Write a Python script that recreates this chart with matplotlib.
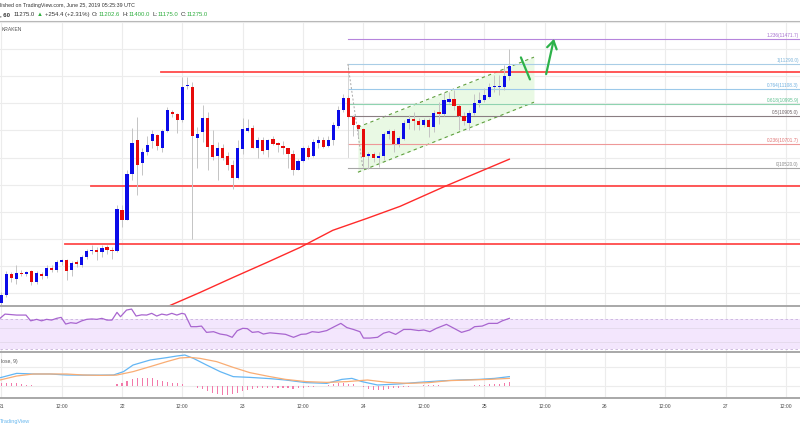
import matplotlib
matplotlib.use('Agg')
import matplotlib.pyplot as plt
from matplotlib.lines import Line2D

# ---------------- data (hourly candles from 2019-06-21 00:00 UTC) ----------------
hours = list(range(102))
opens = [9530, 9584, 9739, 9707, 9751, 9739, 9761, 9682, 9744, 9724,
         9788, 9774, 9830, 9842, 9768, 9827, 9805, 9867, 9909, 9921,
         9903, 9940, 9921, 9911, 10216, 10143, 10482, 10728, 10563, 10641,
         10720, 10765, 10674, 10796, 10937, 10920, 10875, 11130, 11121, 10745,
         10789, 10892, 10691, 10615, 10669, 10610, 10543, 10450, 10661, 10796,
         10821, 10671, 10728, 10654, 10735, 10708, 10684, 10669, 10627, 10512,
         10575, 10674, 10610, 10708, 10733, 10684, 10728, 10833, 10949, 11036,
         10900, 10838, 10814, 10610, 10630, 10600, 10610, 10772, 10796, 10698,
         10740, 10858, 10881, 10870, 10838, 10875, 10826, 10937, 10920, 11010,
         11030, 10979, 10907, 10858, 10932, 10999, 11023, 11047, 11119, 11117,
         11121, 11202.6]
highs = [9606, 9761, 9756, 9805, 9768, 9765, 9768, 9761, 9756, 9805,
         9805, 9842, 9855, 9855, 9835, 9842, 9879, 9928, 9953, 9940,
         9953, 9953, 9940, 10248, 10248, 10506, 10816, 10900, 10669, 10757,
         10802, 10772, 10814, 10974, 10954, 10925, 11193, 11195, 11158, 10826,
         10986, 10937, 10802, 10715, 10703, 10641, 10580, 10728, 10888, 10881,
         10838, 10748, 10748, 10740, 10757, 10715, 10720, 10674, 10654, 10593,
         10684, 10691, 10740, 10757, 10752, 10757, 10863, 10979, 11072, 11060,
         10912, 10851, 10821, 10641, 10641, 10641, 10789, 10814, 10814, 10757,
         10875, 10912, 10937, 10888, 10895, 10895, 10949, 11010, 11084, 11084,
         11097, 10993, 10937, 10949, 11072, 11084, 11109, 11146, 11208, 11208,
         11281, 11400]
lows = [9510, 9571, 9682, 9670, 9731, 9731, 9658, 9670, 9707, 9714,
        9756, 9756, 9805, 9695, 9731, 9793, 9793, 9855, 9892, 9842,
        9867, 9892, 9855, 9903, 10088, 10137, 10433, 10322, 10470, 10617,
        10667, 10654, 10641, 10789, 10900, 10782, 10863, 11102, 10002, 10526,
        10715, 10506, 10580, 10433, 10580, 10506, 10371, 10445, 10630, 10789,
        10667, 10600, 10630, 10605, 10691, 10641, 10630, 10526, 10475, 10506,
        10568, 10593, 10605, 10667, 10667, 10678, 10691, 10821, 10937, 10888,
        10757, 10752, 10531, 10519, 10568, 10531, 10580, 10740, 10641, 10678,
        10728, 10814, 10802, 10802, 10826, 10752, 10789, 10851, 10905, 10999,
        10949, 10802, 10838, 10802, 10912, 10974, 11010, 11036, 11084, 11060,
        11097, 11175]
closes = [9584, 9739, 9714, 9751, 9739, 9754, 9682, 9748, 9724, 9788,
          9768, 9827, 9842, 9761, 9822, 9813, 9867, 9909, 9921, 9903,
          9936, 9916, 9911, 10219, 10143, 10482, 10708, 10548, 10641, 10691,
          10777, 10684, 10796, 10949, 10920, 10875, 11121, 11137, 10757, 10777,
          10892, 10678, 10605, 10669, 10600, 10543, 10450, 10667, 10809, 10819,
          10671, 10728, 10649, 10733, 10703, 10691, 10669, 10624, 10512, 10578,
          10674, 10605, 10713, 10733, 10678, 10733, 10838, 10954, 11036, 10900,
          10838, 10814, 10605, 10630, 10600, 10615, 10772, 10796, 10698, 10745,
          10858, 10883, 10868, 10838, 10875, 10826, 10932, 10920, 11023, 11030,
          10979, 10907, 10868, 10932, 10999, 11023, 11060, 11121, 11126, 11126,
          11202, 11275]

# moving average
sma_hours = [33.1, 39.5, 46.1, 52.8, 59.4, 65.9, 72.7, 79.3, 88.2, 101]
sma_vals = [9503, 9606, 9717, 9827, 9938, 10064, 10152, 10241, 10388, 10588]

# horizontal support / resistance lines: (start hour, price)
hlines = [(31.7, 11230), (17.8, 10388), (12.7, 9960)]

# fibonacci retracement
fib_start = 68.9
fib_hi, fib_lo = 11290, 10520
fib_levels = [1.236, 1, 0.764, 0.618, 0.5, 0.236, 0]
fib_colors = ['#b684dc', '#a9cde6', '#9cc9ea', '#8fd3b0', '#8a7e82', '#ee9898', '#a6a6a6']
fib_text_colors = ['#a56fd0', '#7fb5da', '#6fb0e0', '#5fc090', '#6d6266', '#e07474', '#8a8a8a']

# rising channel
ch_hours = [70.9, 105.9]
ch_lower = [10492, 11008]
ch_upper = [10824, 11340]

# arrows
arrow1 = [(103.3, 11338), (105.1, 11176)]
arrow2 = [(108.2, 11195), (110.0, 11495)]

# RSI
rsi_hours = [-0.26, 0.74, 3.06, 4.9, 5.84, 7.03, 8.0, 9.0, 10.0, 11.0, 11.9, 12.8, 13.8, 14.9,
             16.0, 17.0, 18.0, 19.0, 20.0, 21.0, 22.0, 23.0, 23.7, 24.9, 25.9, 26.8, 27.9, 28.9,
             29.9, 30.9, 31.9, 32.9, 33.9, 34.9, 35.9, 36.5, 37.7, 38.8, 39.8, 40.8, 42.2, 43.5,
             44.8, 45.9, 46.9, 48.0, 48.9, 49.9, 51.1, 52.1, 53.4, 55, 56.5, 58.1, 59.6, 60.6,
             61.8, 63.1, 64.7, 66.2, 67.5, 68.7, 70.0, 71.3, 72, 73.3, 74.8, 76, 77.1, 78.4,
             80, 81.4, 83, 84, 85.2, 86.5, 88.5, 90, 91.5, 93.1, 94.1, 95.6, 96.9, 98.6, 99.6, 101]
rsi_vals = [71.3, 77, 75.7, 75.7, 68, 70, 68, 70, 69, 71.3, 72.6, 63.7, 65.5, 64.6,
            68, 70, 70.5, 70, 71.3, 69, 69, 79.3, 73.5, 82.4, 83.7, 74.4, 76, 75.7,
            78, 74.4, 77, 75.7, 78, 75.7, 78, 77, 60.2, 60.2, 61, 52.6, 53.5, 50.4,
            49, 46, 54.8, 58, 57.6, 52.6, 53.5, 50.4, 52, 51, 50, 46, 50, 50.4,
            53.5, 52.6, 55, 60.2, 64.6, 59, 56.5, 53.5, 45, 45, 46, 51.5, 53.5, 49.9,
            56.5, 56.5, 55, 55.8, 53.5, 58, 63.3, 58, 52.6, 55.8, 60.2, 61, 64.6, 64.6, 68, 71.3]

# MACD (12, 26, close, 9)
macd_hours = [-0.26, 3.06, 6.37, 9.68, 13.0, 16.3, 19.6, 22.3, 24.3, 26.2, 29.6, 32.9, 34.9,
              36.5, 38.2, 40.8, 43.5, 46.1, 49.4, 53.4, 56.5, 60.6, 64.7, 67.7, 69.7, 71.7,
              74.8, 78.9, 82.9, 87, 91, 95, 98.1, 101]
macd_vals = [66, 101, 96, 96, 88, 87, 87, 88, 115, 168, 208, 227, 240,
             248, 221, 168, 115, 75, 69, 59, 48, 27, 21, 53, 61, 35,
             8, 16, 29, 40, 48, 53, 61, 75]
signal_hours = [-0.26, 3.06, 6.37, 9.68, 13.0, 16.3, 19.6, 22.9, 26.2, 29.6, 32.9, 35.5, 37.5,
                39.5, 42.8, 46.1, 49.4, 53.4, 56.5, 60.6, 64.7, 68.7, 72.8, 76.8, 80.9, 85,
                89, 93.1, 97.1, 101]
signal_vals = [48, 80, 96, 96, 96, 88, 85, 87, 115, 155, 195, 224, 229,
               221, 195, 149, 107, 75, 53, 35, 29, 35, 48, 29, 21, 27,
               43, 48, 53, 61]
hist_vals = [21, 21, 21, 21, 16, 11, 5, 4, 3, 2, 1, 1, 0, -1, -1, 0, 0, 0, 0, 0, 1, 1, 2,
             13, 27, 40, 56, 61, 64, 64, 61, 48, 40, 32, 27, 27, 16, 3, 0,
             -19, -27, -40, -53, -67, -72, -72, -67, -59, -37, -32, -21, -19, -19, -16,
             -16, -16, -16, -16, -20, -16, -12, -8, -4, 0, 4, 12, 20, 24, 24, 20, 16, 4,
             -8, -20, -28, -32, -28, -24, -16, -12, -8, -4, 0, 4, 8, 8, 12, 8, 4, 4, 4, 4,
             4, 4, 8, 8, 12, 16, 16, 20, 24, 32]

time_ticks = [0, 12, 24, 36, 48, 60, 72, 84, 96, 108, 120, 132, 144, 156]
time_labels = ['21', '12:00', '22', '12:00', '23', '12:00', '24', '12:00',
               '25', '12:00', '26', '12:00', '27', '12:00']

# ---------------- layout helpers ----------------
W, H = 800, 430
PX_PER_H = 5.03
X0 = 1.3
FONT = ['Liberation Sans', 'DejaVu Sans']
plt.rcParams['font.family'] = FONT

fig = plt.figure(figsize=(W / 100, H / 100), dpi=100)
fig.patch.set_facecolor('white')


def rect(top, bot):
    return [0, 1 - bot / H, 1, (bot - top) / H]


XLIM = (-X0 / PX_PER_H, (W - X0) / PX_PER_H)
ax = fig.add_axes(rect(20.5, 305.5))
ax_rsi = fig.add_axes(rect(306, 352))
ax_macd = fig.add_axes(rect(353, 398))
for a in (ax, ax_rsi, ax_macd):
    a.set_xlim(*XLIM)
    a.axis('off')
    for t in time_ticks:
        a.axvline(t, color='#ececec', lw=0.8, zorder=0)

ax.set_ylim(9510, 11610)
ax_rsi.set_ylim(26.4, 87.8)
ax_macd.set_ylim(-96, 264)

GRID = '#ececec'
for p in range(9600, 11601, 200):
    ax.axhline(p, color=GRID, lw=0.8, zorder=0)

# ---------------- main pane ----------------
# channel
ax.fill_between(ch_hours, ch_lower, ch_upper, color='#e9f9e4', zorder=1, lw=0)
for ys in (ch_lower, ch_upper):
    ax.plot(ch_hours, ys, color='#5f9f3e', lw=0.8, ls=(0, (3, 3)), zorder=2)

# fib retracement
x_label = (W - 1 - X0) / PX_PER_H
for lvl, col, tcol in zip(fib_levels, fib_colors, fib_text_colors):
    price = fib_lo + (fib_hi - fib_lo) * lvl
    ax.plot([fib_start, XLIM[1]], [price, price], color=col, lw=0.8, zorder=2)
    ax.text(x_label, price + 8, f"{lvl:g}({price:.1f})", color=tcol, fontsize=3.4,
            ha='right', va='bottom', zorder=6)
ax.plot([fib_start, fib_start], [fib_hi, 10602], color='#d0d0d0', lw=0.6, zorder=2)
ax.plot([fib_start, 71.9], [fib_hi, fib_lo], color='#a8a8a8', lw=0.7, ls=(0, (2, 2)), zorder=2)

# horizontal lines
for h0, p in hlines:
    ax.plot([h0, XLIM[1]], [p, p], color='#ff4a4a', lw=1.3, zorder=3)

# SMA
ax.plot(sma_hours, sma_vals, color='#ff2a2a', lw=1.0, zorder=3)

# candles
up_col, dn_col = '#0b0be8', '#e60b0b'
cols = [up_col if c >= o else dn_col for o, c in zip(opens, closes)]
ax.vlines(hours, lows, highs, colors='#c4c4c4', lw=0.7, zorder=4)
heights = [c - o if abs(c - o) > 6 else 6 for o, c in zip(opens, closes)]
bottoms = [o if abs(c - o) > 6 else min(o, c) for o, c in zip(opens, closes)]
ax.bar(hours, heights, bottom=bottoms, width=0.64, color=cols, lw=0, zorder=5)

# arrows
ax.plot([arrow1[0][0], arrow1[1][0]], [arrow1[0][1], arrow1[1][1]],
        color='#2db24a', lw=1.6, solid_capstyle='round', zorder=6)
ax.annotate('', xy=arrow2[1], xytext=arrow2[0],
            arrowprops=dict(arrowstyle='->,head_length=0.55,head_width=0.35',
                            color='#2db24a', lw=1.6, mutation_scale=10),
            zorder=6)

ax.text(0.0, 11610 - (29.3 - 20.5) * 7.38, 'KRAKEN', fontsize=3.6, color='#555555',
        ha='left', va='center')

# ---------------- RSI pane ----------------
ax_rsi.axhspan(30, 70, color='#f3e6fd', lw=0, zorder=0)
for lv in (70, 30):
    ax_rsi.axhline(lv, color='#c9b2dc', lw=0.6, ls=(0, (3, 3)), zorder=1)
for lv in (58.4, 39.7):
    ax_rsi.axhline(lv, color='#e3d8ea', lw=0.6, zorder=1)
ax_rsi.plot(rsi_hours, rsi_vals, color='#a865cf', lw=0.9, zorder=3)

# ---------------- MACD pane ----------------
ax_macd.axhline(0, color=GRID, lw=0.8, zorder=0)
ax_macd.axhline(154, color=GRID, lw=0.8, zorder=0)
ax_macd.bar(hours, hist_vals, width=0.22, color='#f27aaa', lw=0, zorder=2)
ax_macd.plot(macd_hours, macd_vals, color='#63b6f4', lw=0.9, zorder=3)
ax_macd.plot(signal_hours, signal_vals, color='#f9ad74', lw=0.9, zorder=3)
ax_macd.text(0.0, 264 - (361 - 353) * 8, 'lose, 9)', fontsize=3.6, color='#555555',
             ha='left', va='center')

# ---------------- separators, time axis, header ----------------
for y, lw, c in [(20.5, 0.8, '#b8b8b8'), (305.7, 1.4, '#a8a8a8'),
                 (352.4, 1.4, '#a8a8a8'), (398.4, 1.4, '#a8a8a8')]:
    fig.add_artist(Line2D([0, 1], [1 - y / H, 1 - y / H], transform=fig.transFigure,
                          color=c, lw=lw))

for t, lab in zip(time_ticks, time_labels):
    fig.text((X0 + PX_PER_H * t) / W, 1 - 406 / H, lab, fontsize=3.6, color='#4a4a4a',
             ha='center', va='center')

fig.text(0.0, 1 - 421 / H, 'TradingView', fontsize=4.0, color='#6ab8ee',
         ha='left', va='center')

fig.text(0.0, 1 - 6 / H, 'lished on TradingView.com, June 25, 2019 05:25:39 UTC',
         fontsize=3.8, color='#333333', ha='left', va='center')

renderer = fig.canvas.get_renderer()
green = '#2fae3f'
dark = '#333333'
segs = [(', 60', dark, 'bold', 3.5), ('11275.0', dark, 'normal', 2.5),
        ('\u25b2', green, 'normal', 1.5), ('+254.4 (+2.31%)', dark, 'normal', 2.5),
        ('O:', dark, 'normal', 0.3), ('11202.6', green, 'normal', 2.5),
        ('H:', dark, 'normal', 0.3), ('11400.0', green, 'normal', 2.5),
        ('L:', dark, 'normal', 0.3), ('11175.0', green, 'normal', 2.5),
        ('C:', dark, 'normal', 0.3), ('11275.0', green, 'normal', 0)]
xpos = 0.0
for s, c, wgt, gap in segs:
    t = fig.text(xpos / W, 1 - 14.7 / H, s, fontsize=4.3, color=c, fontweight=wgt,
                 ha='left', va='center')
    bb = t.get_window_extent(renderer)
    xpos += bb.width + gap

fig.savefig('out.png', dpi=100, facecolor='white')
